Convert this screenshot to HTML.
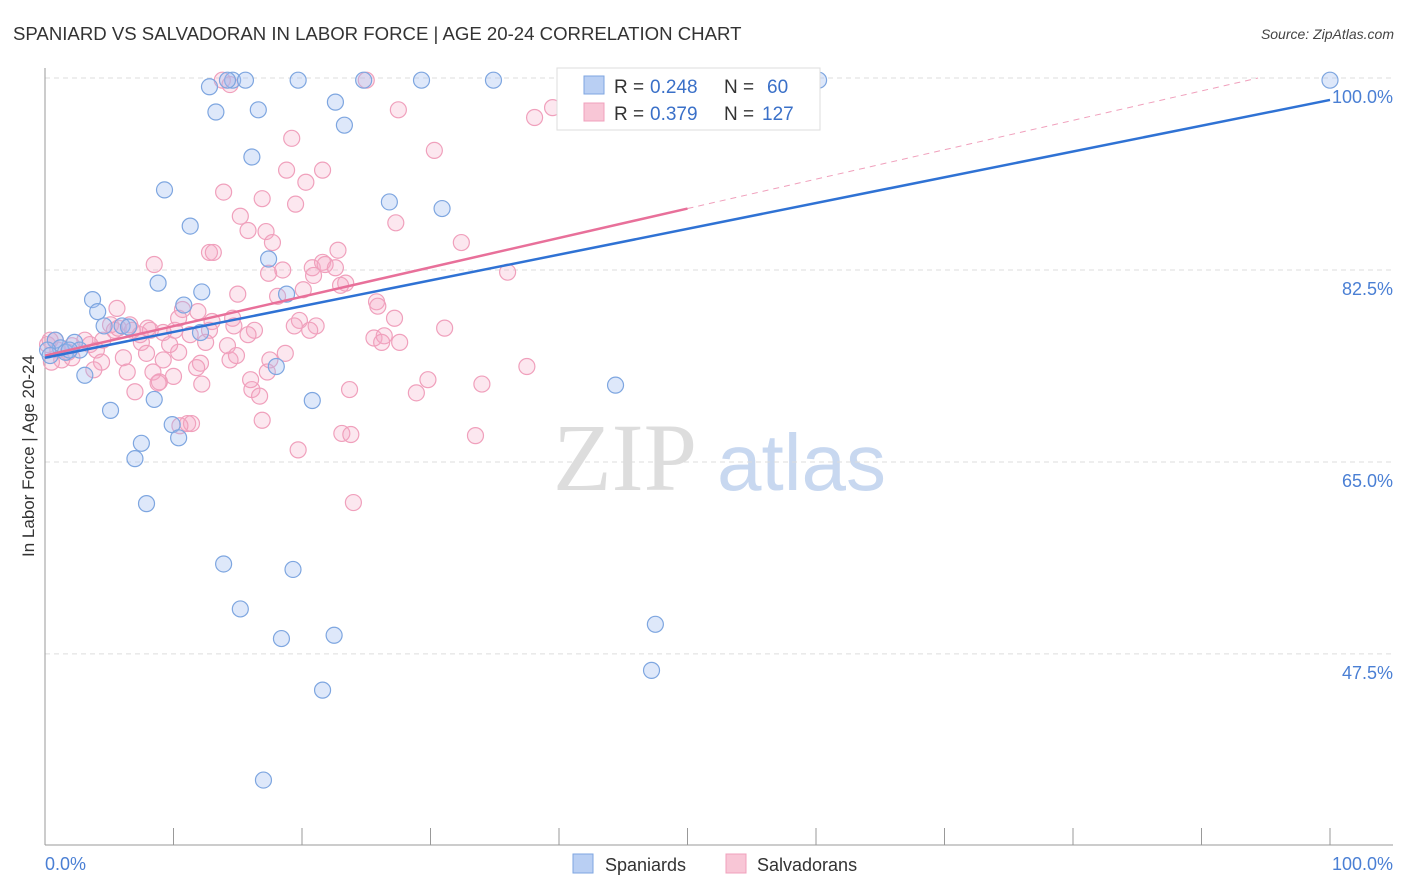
<!DOCTYPE html>
<html><head><meta charset="utf-8"><style>
body{margin:0;background:#fff;font-family:"Liberation Sans",sans-serif;}
svg{display:block}
</style></head><body>
<svg id="chart" width="1406" height="892" viewBox="0 0 1406 892" xmlns="http://www.w3.org/2000/svg">
<text x="13" y="40" font-size="18.6" fill="#333">SPANIARD VS SALVADORAN IN LABOR FORCE | AGE 20-24 CORRELATION CHART</text>
<text x="1394" y="39" font-size="14" fill="#444" text-anchor="end" font-style="italic">Source: ZipAtlas.com</text>
<text transform="translate(34,456) rotate(-90)" font-size="17" fill="#333" text-anchor="middle">In Labor Force | Age 20-24</text>
<g>
<text x="553" y="490" font-size="96" font-family="Liberation Serif,serif" fill="#ddd">ZIP</text>
<text x="717" y="490" font-size="80" fill="#c8d8f0">atlas</text>
</g>
<g id="grid"></g>
<g id="axes"></g>
<g id="pts"></g>
<g id="lines"></g>
<g>
<rect x="557" y="68" width="263" height="62" fill="#fff" stroke="#ddd"/>
<rect x="584" y="76" width="20" height="18" fill="#b9cff3" stroke="#7ea6e0"/>
<text x="614" y="93" font-size="19" fill="#333">R =</text>
<text x="650" y="93" font-size="19" fill="#3a70c8">0.248</text>
<text x="724" y="93" font-size="19" fill="#333">N =</text>
<text x="767" y="93" font-size="19" fill="#3a70c8">60</text>
<rect x="584" y="103" width="20" height="18" fill="#f8c6d6" stroke="#f0a0bc"/>
<text x="614" y="120" font-size="19" fill="#333">R =</text>
<text x="650" y="120" font-size="19" fill="#3a70c8">0.379</text>
<text x="724" y="120" font-size="19" fill="#333">N =</text>
<text x="762" y="120" font-size="19" fill="#3a70c8">127</text>
</g>
<g>
<rect x="573" y="854" width="20" height="19" fill="#b9cff3" stroke="#7ea6e0"/>
<text x="605" y="871" font-size="18" fill="#333">Spaniards</text>
<rect x="726" y="854" width="20" height="19" fill="#f8c6d6" stroke="#f0a0bc"/>
<text x="757" y="871" font-size="18" fill="#333">Salvadorans</text>
</g>
</svg>
<script>
const blueX=[100,14.6,15.6,19.7,24.8,29.3,34.9,45.4,51.9,60.2,12.8,14.2,22.6,13.3,16.6,23.3,16.1,9.3,26.8,30.9,11.3,17.4,8.8,3.7,12.2,18.8,10.8,4.1,4.6,6.0,6.5,12.1,0.8,2.3,1.2,0.2,2.7,1.6,3.1,18.0,44.4,8.5,20.8,5.1,9.9,7.5,10.4,7.0,7.9,13.9,19.3,15.2,18.4,22.5,47.5,47.2,21.6,17.0,0.4,1.9];
const blueY=[99.8,99.8,99.8,99.8,99.8,99.8,99.8,99.8,99.8,99.8,99.2,99.8,97.8,96.9,97.1,95.7,92.8,89.8,88.7,88.1,86.5,83.5,81.3,79.8,80.5,80.3,79.3,78.7,77.4,77.4,77.3,76.8,76.1,75.9,75.4,75.2,75.2,75.0,72.9,73.7,72.0,70.7,70.6,69.7,68.4,66.7,67.2,65.3,61.2,55.7,55.2,51.6,48.9,49.2,50.2,46.0,44.2,36.0,74.7,75.2];
const pinkX=[13.8,25.0,14.4,27.5,39.5,38.1,19.2,30.3,18.8,20.3,21.6,13.9,16.9,19.5,15.2,27.3,15.8,17.2,17.7,22.8,32.4,12.8,13.1,8.5,17.4,18.5,20.8,21.6,21.8,22.6,20.9,36.0,23.4,20.1,15.0,18.1,25.8,25.9,5.6,10.7,27.2,13.0,14.6,19.8,21.1,19.4,8.0,10.1,9.2,5.1,6.6,5.4,11.3,16.3,15.8,14.7,31.1,25.6,26.4,26.2,27.6,14.2,7.5,4.5,3.5,0.8,1.0,2.1,4.0,10.4,7.9,18.7,6.1,9.2,12.1,14.4,1.3,0.5,4.4,2.1,3.8,6.4,8.4,11.8,10.0,17.3,37.5,29.8,34.0,8.9,8.8,12.2,16.1,7.0,23.7,28.9,16.7,16.9,11.1,11.4,10.5,33.5,23.1,23.8,19.7,24.0,0.2,0.4,1.8,3.1,5.7,6.8,7.4,10.4,14.9,9.7,12.8,11.9,17.5,20.6,16.0,8.2,12.5,23.0];
const pinkY=[99.8,99.8,99.4,97.1,97.3,96.4,94.5,93.4,91.6,90.5,91.6,89.6,89.0,88.5,87.4,86.8,86.1,86.0,85.0,84.3,85.0,84.1,84.1,83.0,82.2,82.5,82.7,83.2,83.0,82.7,82.0,82.3,81.3,80.7,80.3,80.1,79.6,79.2,79.0,78.9,78.1,77.8,78.1,77.9,77.4,77.4,77.2,77.0,76.8,77.5,77.5,77.0,76.6,77.0,76.6,77.4,77.2,76.3,76.5,75.9,75.9,75.6,75.9,76.1,75.7,76.1,75.2,75.6,75.2,75.0,74.9,74.9,74.5,74.3,74.0,74.3,74.3,74.1,74.1,74.5,73.4,73.2,73.2,73.6,72.8,73.2,73.7,72.5,72.1,72.3,72.2,72.1,71.6,71.4,71.6,71.3,71.0,68.8,68.5,68.5,68.3,67.4,67.6,67.5,66.1,61.3,75.7,76.1,75.0,76.1,77.2,77.0,76.6,78.1,74.7,75.7,77.0,78.7,74.3,77.0,72.5,77.0,75.9,81.1];
const yTicks=[100,82.5,65,47.5];
const yTickLabels=["100.0%","82.5%","65.0%","47.5%"];
const blueLine=[74.5,98.0];
const pinkLine=[74.7,88.1];
const NS="http://www.w3.org/2000/svg";
function sx(v){return 45+v*12.85;}
function sy(v){return 78+(100-v)*10.97;}
function mk(p,tag,a){const e=document.createElementNS(NS,tag);for(const k in a)e.setAttribute(k,a[k]);p.appendChild(e);return e;}
const grid=document.getElementById('grid'),axes=document.getElementById('axes'),pts=document.getElementById('pts'),lines=document.getElementById('lines');
yTicks.forEach((t,i)=>{
 const g=mk(grid,'line',{x1:45,x2:1393,y1:sy(t),y2:sy(t),stroke:'#ddd','stroke-dasharray':'5,4'});
 
 
 const l=mk(axes,'text',{x:1393,y:sy(t)+25,'font-size':18,fill:'#4a7fd4','text-anchor':'end'});
 l.textContent=yTickLabels[i];
 
 
});
const ya=mk(axes,'line',{x1:45,x2:45,y1:68,y2:845,stroke:'#999'});


const xa=mk(axes,'line',{x1:45,x2:1393,y1:845,y2:845,stroke:'#999'});


for(let i=1;i<=10;i++){
 const t=mk(axes,'line',{x1:sx(i*10),x2:sx(i*10),y1:828,y2:845,stroke:'#999'});
 
 
}
const x0=mk(axes,'text',{x:45,y:870,'font-size':18,fill:'#4a7fd4'});x0.textContent='0.0%';


const x1=mk(axes,'text',{x:1393,y:870,'font-size':18,fill:'#4a7fd4','text-anchor':'end'});x1.textContent='100.0%';


function dots(X,Y,fill,stroke,name){
 const n=Math.min(X.length,Y.length);
 for(let i=0;i<n;i++){
  const c=mk(pts,'circle',{cx:sx(X[i]),cy:sy(Y[i]),r:8,fill:fill,stroke:stroke,'stroke-width':1.2});
  
  
 }
}
dots(pinkX,pinkY,'rgba(246,170,196,0.28)','#f0a0bc','salvadoran-point');
dots(blueX,blueY,'rgba(160,190,240,0.35)','#7ea6e0','spaniard-point');
const pslope=(pinkLine[1]-pinkLine[0])/50;
const xEnd=Math.min(100,(100-pinkLine[0])/pslope);
const pd=mk(lines,'line',{x1:sx(50),y1:sy(pinkLine[1]),x2:sx(xEnd),y2:sy(pinkLine[0]+pslope*xEnd),stroke:'#f0a0bc','stroke-dasharray':'6,5','stroke-width':1});


const pl=mk(lines,'line',{x1:sx(0),y1:sy(pinkLine[0]),x2:sx(50),y2:sy(pinkLine[1]),stroke:'#e8709a','stroke-width':2.5});


const bl=mk(lines,'line',{x1:sx(0),y1:sy(blueLine[0]),x2:sx(100),y2:sy(blueLine[1]),stroke:'#2f72d4','stroke-width':2.5});


</script>
</body></html>
